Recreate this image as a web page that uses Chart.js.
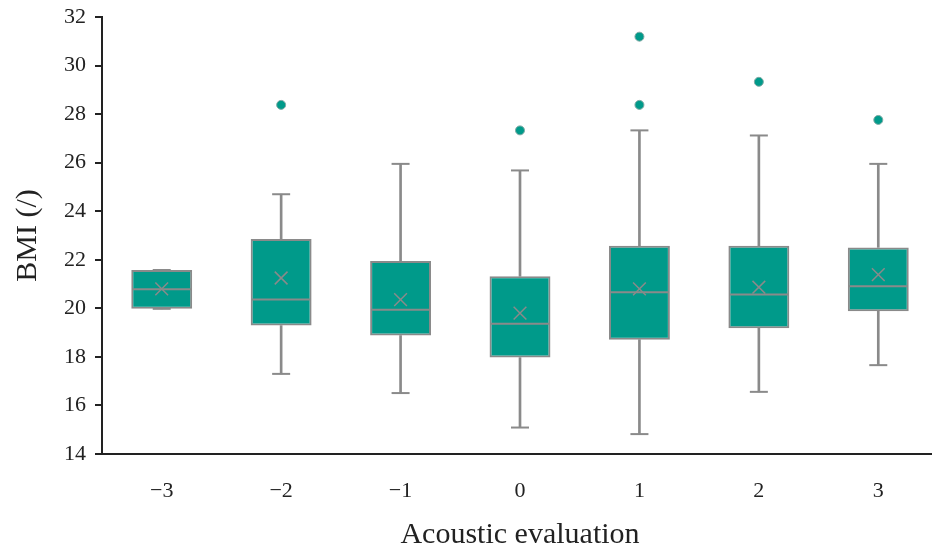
<!DOCTYPE html>
<html>
<head>
<meta charset="utf-8">
<script src="https://cdn.jsdelivr.net/npm/chart.js@4/dist/chart.umd.min.js"></script>
<style>
  body { margin: 0; background: #fff; overflow: hidden; }
  #wrap { width: 938px; height: 547px; }
</style>
</head>
<body>
<div id="wrap"><canvas id="boxChart"></canvas></div>
<script>
const labels = ["−3", "−2", "−1", "0", "1", "2", "3"];

// box plot values, one per category
const whiskerLow  = [19.98, 17.30, 16.51, 15.09, 14.82, 16.56, 17.66];
const q1          = [19.98, 19.29, 18.88, 17.97, 18.71, 19.18, 19.88];
const median      = [20.79, 20.36, 19.94, 19.36, 20.66, 20.57, 20.91];
const q3          = [21.58, 22.86, 21.95, 21.32, 22.58, 22.58, 22.51];
const whiskerHigh = [21.58, 24.70, 25.95, 25.68, 27.33, 27.12, 25.95];
const mean        = [20.80, 21.25, 20.36, 19.80, 20.80, 20.87, 21.39];

// outliers
const outlierCat = ["−2", "0", "1", "1", "2", "3"];
const outlierVal = [28.38, 27.33, 28.38, 31.19, 29.33, 27.76];

const teal = "#009a8a";
const gray = "#8a8a8a";

const boxChart = new Chart(document.getElementById("boxChart"), {
    type: "bar",
    data: {
        labels: labels,
        datasets: [
            {
                type: "line",
                label: "Outliers",
                data: outlierCat.map((c, i) => ({ x: c, y: outlierVal[i] })),
                showLine: false,
                pointStyle: "circle",
                pointRadius: 4.5,
                pointBackgroundColor: teal,
                pointBorderColor: "#7fa9a4",
                pointBorderWidth: 1,
            },
            {
                type: "line",
                label: "Mean",
                data: mean,
                showLine: false,
                pointStyle: "crossRot",
                pointRadius: 9,
                pointBorderColor: gray,
                pointBorderWidth: 1.5,
            },
            {
                type: "line",
                label: "Median",
                data: median,
                showLine: false,
                pointStyle: "line",
                pointRadius: 29.5,
                pointBorderColor: gray,
                pointBorderWidth: 2,
            },
            {
                type: "line",
                label: "Cap high",
                data: whiskerHigh,
                showLine: false,
                pointStyle: "line",
                pointRadius: 9,
                pointBorderColor: gray,
                pointBorderWidth: 2,
            },
            {
                type: "line",
                label: "Cap low",
                data: whiskerLow,
                showLine: false,
                pointStyle: "line",
                pointRadius: 9,
                pointBorderColor: gray,
                pointBorderWidth: 2,
            },
            {
                label: "Box",
                data: q1.map((v, i) => [v, q3[i]]),
                backgroundColor: teal,
                borderColor: gray,
                borderWidth: 2,
                borderSkipped: false,
                grouped: false,
                categoryPercentage: 1.0,
                barPercentage: 0.51,
            },
            {
                label: "Whisker high",
                data: q3.map((v, i) => [v, whiskerHigh[i]]),
                backgroundColor: gray,
                barThickness: 2,
                grouped: false,
            },
            {
                label: "Whisker low",
                data: whiskerLow.map((v, i) => [v, q1[i]]),
                backgroundColor: gray,
                barThickness: 2,
                grouped: false,
            },
        ]
    },
    options: {
        responsive: true,
        maintainAspectRatio: false,
        animation: false,
        layout: { autoPadding: false, padding: { top: 17, right: 0, left: 0, bottom: 0 } },
        plugins: { legend: { display: false }, tooltip: { enabled: false } },
        scales: {
            x: {
                grid: { display: false },
                border: { display: true, color: "#222", width: 2 },
                ticks: {
                    color: "#222",
                    padding: 16,
                    font: { family: "Liberation Serif", size: 22 }
                },
                title: {
                    display: true,
                    text: "Acoustic evaluation",
                    color: "#222",
                    padding: { top: 12, bottom: 0 },
                    font: { family: "Liberation Serif", size: 30, lineHeight: 0.8 }
                },
                afterFit: s => { s.height = 93; }
            },
            y: {
                min: 14,
                max: 32,
                ticks: {
                    stepSize: 2,
                    color: "#222",
                    padding: 9,
                    font: { family: "Liberation Serif", size: 22 }
                },
                grid: {
                    drawOnChartArea: false,
                    drawTicks: true,
                    tickLength: 7,
                    color: "#222",
                    lineWidth: 2
                },
                border: { display: true, color: "#222", width: 2 },
                title: {
                    display: true,
                    text: "BMI (/)",
                    color: "#222",
                    padding: { top: 10, bottom: 0 },
                    font: { family: "Liberation Serif", size: 30 }
                },
                afterFit: s => { s.width = 102; s.paddingTop = 0; }
            }
        }
    }
});
</script>
</body>
</html>
